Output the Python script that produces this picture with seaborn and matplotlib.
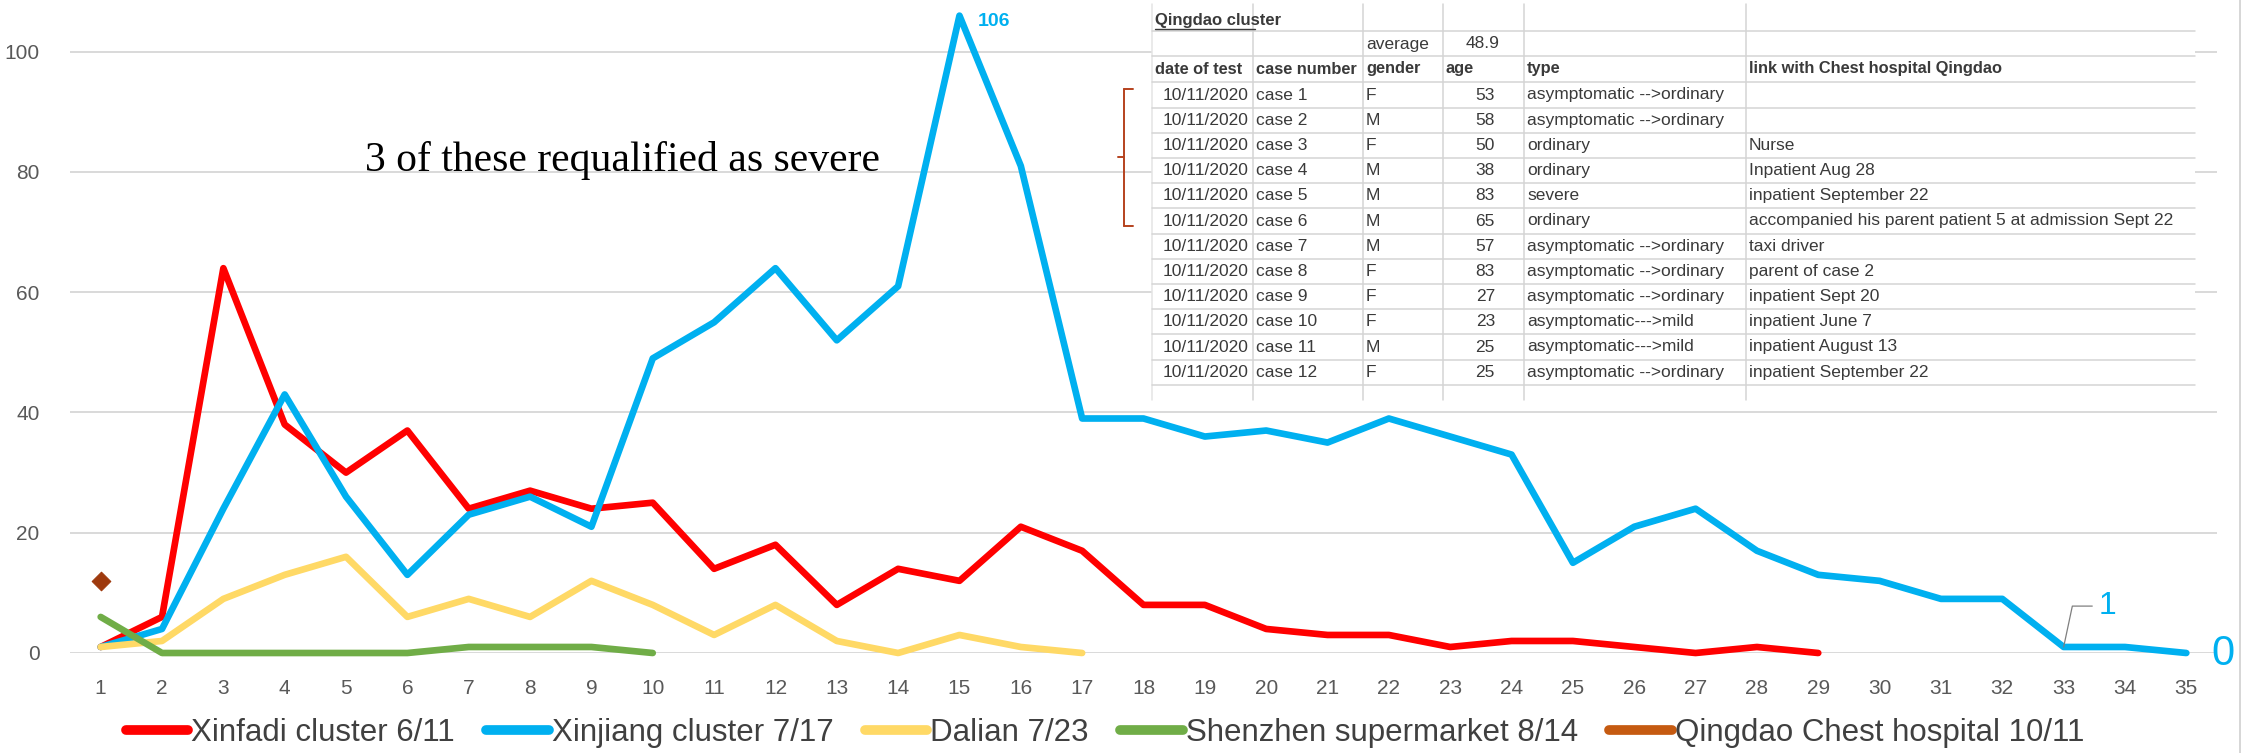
"""
Cluster case counts by day since outbreak, with the Qingdao case table overlay.
"""

import matplotlib
matplotlib.use("Agg")
import matplotlib.pyplot as plt
import seaborn as sns
import pandas as pd
from matplotlib import font_manager
from matplotlib.lines import Line2D
from matplotlib.patches import Rectangle

# ---- data ----
days = list(range(1, 36))
xinfadi = [1, 6, 64, 38, 30, 37, 24, 27, 24, 25, 14, 18, 8, 14, 12, 21, 17, 8, 8, 4,
           3, 3, 1, 2, 2, 1, 0, 1, 0]
xinjiang = [1, 4, 24, 43, 26, 13, 23, 26, 21, 49, 55, 64, 52, 61, 106, 81, 39, 39, 36, 37,
            35, 39, 36, 33, 15, 21, 24, 17, 13, 12, 9, 9, 1, 1, 0]
dalian = [1, 2, 9, 13, 16, 6, 9, 6, 12, 8, 3, 8, 2, 0, 3, 1, 0]
shenzhen = [6, 0, 0, 0, 0, 0, 1, 1, 1, 0]
qingdao = [12]

series_names = ["Xinfadi cluster 6/11", "Xinjiang cluster 7/17", "Dalian 7/23",
                "Shenzhen supermarket 8/14", "Qingdao Chest hospital 10/11"]
series_colors = ["#FF0000", "#00B0F0", "#FFD966", "#70AD47", "#C55A11"]

# Qingdao cluster table
table_title = "Qingdao cluster"
avg_age = "48.9"
headers = ["date of test", "case number", "gender", "age", "type", "link with Chest hospital Qingdao"]
test_dates = ["10/11/2020"] * 12
case_numbers = [f"case {i}" for i in range(1, 13)]
genders = ["F", "M", "F", "M", "M", "M", "M", "F", "F", "F", "M", "F"]
ages = [53, 58, 50, 38, 83, 65, 57, 83, 27, 23, 25, 25]
types = ["asymptomatic -->ordinary", "asymptomatic -->ordinary", "ordinary", "ordinary", "severe",
         "ordinary", "asymptomatic -->ordinary", "asymptomatic -->ordinary",
         "asymptomatic -->ordinary", "asymptomatic--->mild", "asymptomatic--->mild",
         "asymptomatic -->ordinary"]
links = ["", "", "Nurse", "Inpatient Aug 28", "inpatient September 22",
         "accompanied his parent patient 5 at admission Sept 22", "taxi driver", "parent of case 2",
         "inpatient Sept 20", "inpatient June 7", "inpatient August 13", "inpatient September 22"]

# ---- fonts ----
available = {f.name for f in font_manager.fontManager.ttflist}
narrow = "Liberation Sans Narrow" if "Liberation Sans Narrow" in available else "Liberation Sans"

sns.set_style("white")
plt.rcParams["font.family"] = [narrow, "DejaVu Sans"]

W, H = 2245, 753
fig = plt.figure(figsize=(W / 100, H / 100), dpi=100)


def fx(px):
    return px / W


def fy(py):
    return 1 - py / H


ax = fig.add_axes([fx(70), fy(653), fx(2217) - fx(70), fy(0) - fy(653)])

frames = []
for name, vals in zip(series_names, [xinfadi, xinjiang, dalian, shenzhen, qingdao]):
    frames.append(pd.DataFrame({"day": days[:len(vals)], "cases": vals, "cluster": name}))
df = pd.concat(frames, ignore_index=True)

for name, color in zip(series_names[:4], series_colors[:4]):
    sub = df[df["cluster"] == name]
    sns.lineplot(data=sub, x="day", y="cases", color=color, lw=4.8, ax=ax,
                 legend=False, clip_on=False, zorder=3)

sns.scatterplot(data=df[df["cluster"] == series_names[4]], x="day", y="cases", marker="D",
                s=90, color="#9E3A0E", edgecolor="#9E3A0E", ax=ax, legend=False, zorder=4)

ax.set_xlim(0.5, 35.5)
ax.set_ylim(0, 108.6)
ax.set_xticks(days)
ax.set_yticks([0, 20, 40, 60, 80, 100])
ax.grid(axis="y", color="#D9D9D9", lw=1.4)
ax.grid(axis="x", visible=False)
for s in ax.spines.values():
    s.set_visible(False)
ax.tick_params(axis="both", length=0, labelsize=15, colors="#595959")
ax.tick_params(axis="x", pad=18.5)
ax.tick_params(axis="y", pad=22)
ax.set_xlabel("")
ax.set_ylabel("")

# data labels
ax.annotate("106", xy=(15, 106), xytext=(13, -4), textcoords="offset points",
            color="#00B0F0", fontsize=14, fontweight="bold", va="center", ha="left",
            annotation_clip=False)
ax.annotate("1", xy=(33, xinjiang[32]), xytext=(2098 / 61.3 - 0.66, 7.8),
            color="#00B0F0", fontsize=23, va="center", ha="left",
            arrowprops=dict(arrowstyle="-", color="#7F7F7F", lw=0.9,
                            connectionstyle="angle,angleA=0,angleB=78,rad=0",
                            shrinkA=2, shrinkB=0))
ax.annotate("0", xy=(35, xinjiang[34]), xytext=(18, -1), textcoords="offset points",
            color="#00B0F0", fontsize=30, va="center", ha="left", annotation_clip=False)

# legend
handles = [Line2D([], [], color=c, lw=7) for c in series_colors]
fig.legend(handles, series_names, loc="center left", bbox_to_anchor=(fx(110), fy(733)),
           ncol=5, frameon=False, fontsize=22.5, handlelength=2.0, handletextpad=0.1,
           columnspacing=1.0, labelcolor="#404040", borderpad=0)

# annotation text and bracket
fig.text(fx(365), fy(160), "3 of these requalified as severe", family="Liberation Serif",
         fontsize=30, color="black", va="center", ha="left")
br = "#B5421E"
fig.add_artist(Line2D([fx(1124), fx(1124)], [fy(89), fy(226)], color=br, lw=1.4))
fig.add_artist(Line2D([fx(1124), fx(1133)], [fy(89), fy(89)], color=br, lw=1.4))
fig.add_artist(Line2D([fx(1124), fx(1133)], [fy(226), fy(226)], color=br, lw=1.4))
fig.add_artist(Line2D([fx(1118), fx(1124)], [fy(157), fy(157)], color=br, lw=1.4))

# ---- table overlay ----
tl, tr, ttop, tbot = 1152, 2195, 4, 400
fig.add_artist(Rectangle((fx(tl), fy(tbot)), fx(tr) - fx(tl), fy(ttop) - fy(tbot),
                         transform=fig.transFigure, facecolor="white", edgecolor="none", zorder=5))
col_edges = [1152, 1253, 1363, 1443, 1524, 1746, 2195]
grid_c = "#D4D4D4"
for x in col_edges[1:-1]:
    fig.add_artist(Line2D([fx(x), fx(x)], [fy(ttop), fy(tbot)], color=grid_c, lw=1.1, zorder=6))
fig.add_artist(Line2D([fx(tl), fx(tl)], [fy(ttop), fy(tbot)], color="#E4E4E4", lw=1.1, zorder=6))
pitch = 25.2
row_y = [20, 44, 69] + [95 + pitch * k for k in range(12)]
line_y = [31, 56, 82] + [95 + pitch * k + pitch / 2 for k in range(12)]
for y in line_y:
    fig.add_artist(Line2D([fx(tl), fx(tr)], [fy(y), fy(y)], color=grid_c, lw=1.1, zorder=6))

tc = "#3A3A3A"
tfs = 12.5
fig.text(fx(1155), fy(row_y[0]), table_title, fontsize=12, fontweight="bold", color=tc,
         va="center", ha="left", zorder=7)
fig.add_artist(Line2D([fx(1155), fx(1255)], [fy(row_y[0] + 9), fy(row_y[0] + 9)],
                      color=tc, lw=1.0, zorder=7))
fig.text(fx(1366), fy(row_y[1]), "average", fontsize=tfs, color=tc, va="center", ha="left", zorder=7)
fig.text(fx(1500), fy(row_y[1]), avg_age, fontsize=tfs, color=tc, va="center", ha="right", zorder=7)
for x, h in zip([1155, 1256, 1366, 1446, 1527, 1749], headers):
    fig.text(fx(x), fy(row_y[2]), h, fontsize=11.8, fontweight="bold", color=tc,
             va="center", ha="left", zorder=7)
for i in range(12):
    y = fy(row_y[3 + i])
    fig.text(fx(1249), y, test_dates[i], fontsize=tfs, color=tc, va="center", ha="right", zorder=7)
    fig.text(fx(1256), y, case_numbers[i], fontsize=tfs, color=tc, va="center", ha="left", zorder=7)
    fig.text(fx(1366), y, genders[i], fontsize=tfs, color=tc, va="center", ha="left", zorder=7)
    fig.text(fx(1495), y, str(ages[i]), fontsize=tfs, color=tc, va="center", ha="right", zorder=7)
    fig.text(fx(1527), y, types[i], fontsize=tfs, color=tc, va="center", ha="left", zorder=7)
    fig.text(fx(1749), y, links[i], fontsize=tfs, color=tc, va="center", ha="left", zorder=7)

# frame edge on the right
fig.add_artist(Line2D([fx(2240), fx(2240)], [0, 1], color="#D0D0D0", lw=1.2))

fig.savefig("out.png", dpi=100, facecolor="white")
plt.close(fig)
print("saved out.png")
